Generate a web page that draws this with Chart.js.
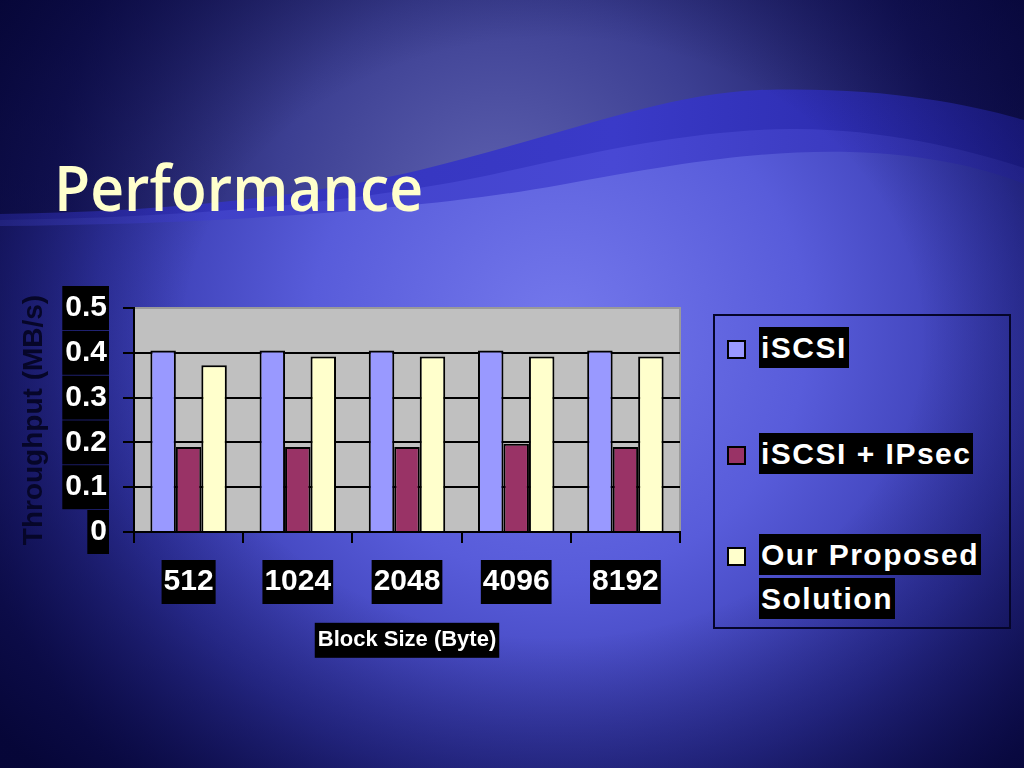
<!DOCTYPE html>
<html>
<head>
<meta charset="utf-8">
<script src="https://cdn.jsdelivr.net/npm/chart.js@4"></script>
<style>
  html, body { margin:0; padding:0; }
  body {
    width:1024px; height:768px; overflow:hidden; position:relative;
    background:#12125a;
    font-family: "Liberation Sans", Arial, sans-serif;
  }
  #bg { position:absolute; left:0; top:0; }
  #vignette {
    position:absolute; left:0; top:0; width:1024px; height:768px;
    background: radial-gradient(ellipse 72% 78% at 54% 44%, rgba(8,8,60,0) 50%, rgba(6,6,55,0.55) 80%, rgba(4,4,50,0.9) 100%);
  }
  #title {
    position:absolute; left:54px; top:155px; margin:0;
    font-family:"Open Sans", sans-serif; font-weight:600; font-size:64px; line-height:1;
    color:#ffffcc; transform:scaleX(0.92); transform-origin:left top;
  }
  #chartBox { position:absolute; left:0; top:270px; }
  #legend {
    position:absolute; left:713px; top:314px; width:294px; height:311px;
    border:2px solid #05052a; padding:0; box-sizing:content-box;
  }
  .item { position:absolute; left:12px; }
  .sw { position:absolute; left:0; width:15px; height:15px; border:2px solid #000; }
  .lbl {
    position:absolute; left:32px; width:240px;
    font-weight:bold; font-size:30px; line-height:44px; color:#fff; letter-spacing:1.5px;
  }
  .lbl span { background:#000; padding:4px 2px; -webkit-box-decoration-break:clone; box-decoration-break:clone; }
</style>
</head>
<body>
<svg id="bg" width="1024" height="768">
  <defs>
    <radialGradient id="upper" gradientUnits="userSpaceOnUse" cx="500" cy="210" r="640">
      <stop offset="0" stop-color="#5e61b0"/>
      <stop offset="0.35" stop-color="#3c3f92"/>
      <stop offset="0.7" stop-color="#16165c"/>
      <stop offset="1" stop-color="#08083e"/>
    </radialGradient>
    <radialGradient id="lower" gradientUnits="userSpaceOnUse" cx="560" cy="330" r="620">
      <stop offset="0" stop-color="#7478ec"/>
      <stop offset="0.4" stop-color="#585cda"/>
      <stop offset="0.75" stop-color="#3437aa"/>
      <stop offset="1" stop-color="#1a1a70"/>
    </radialGradient>
    <linearGradient id="band1" x1="0" y1="0" x2="1" y2="0">
      <stop offset="0" stop-color="#3030b4"/>
      <stop offset="0.6" stop-color="#3a3ac8"/>
      <stop offset="1" stop-color="#2424a0"/>
    </linearGradient>
    <linearGradient id="band2" x1="0" y1="0" x2="1" y2="0">
      <stop offset="0" stop-color="#3c3ec2"/>
      <stop offset="0.6" stop-color="#4848d4"/>
      <stop offset="1" stop-color="#3030b0"/>
    </linearGradient>
  </defs>
  <rect x="0" y="0" width="1024" height="768" fill="url(#upper)"/>
  <path d="M0,214 C160,212 300,198 420,170 C560,136 660,94 760,90 C880,86 970,104 1024,120 L1024,768 L0,768 Z" fill="url(#band1)"/>
  <path d="M0,220 C200,218 370,200 490,175 C610,148 700,130 790,129 C880,128 970,150 1024,168 L1024,768 L0,768 Z" fill="url(#band2)"/>
  <path d="M0,226 C220,224 420,210 560,185 C680,163 760,150 850,152 C930,154 990,170 1024,184 L1024,768 L0,768 Z" fill="url(#lower)"/>
</svg>
<div id="vignette"></div>
<h1 id="title">Performance</h1>
<div id="chartBox"><canvas id="perfChart" width="700" height="400"></canvas></div>
<div id="legend"></div>
<script>
const blockSizes = ['512', '1024', '2048', '4096', '8192'];
const iscsi = [0.405, 0.405, 0.405, 0.405, 0.405];
const iscsiIpsec = [0.19, 0.19, 0.19, 0.197, 0.19];
const proposed = [0.372, 0.392, 0.392, 0.392, 0.392];
const yTicks = [0, 0.1, 0.2, 0.3, 0.4, 0.5];

const seriesNames = ['iSCSI', 'iSCSI + IPsec', 'Our Proposed Solution'];
const seriesColors = ['#9999ff', '#993366', '#ffffcc'];

const tickFont = { family: '"Liberation Sans", Arial, sans-serif', size: 30, weight: 'bold' };

// gray plot area + black box behind the x title
const plotBg = {
  id: 'plotBg',
  beforeDraw(chart) {
    const { ctx, chartArea: a } = chart;
    ctx.save();
    ctx.fillStyle = '#c0c0c0';
    ctx.fillRect(a.left, a.top, a.right - a.left, a.bottom - a.top);
    ctx.strokeStyle = '#9a9a9a';
    ctx.lineWidth = 2;
    ctx.strokeRect(a.left, a.top, a.right - a.left, a.bottom - a.top);

    const s = chart.scales.x;
    const t = s.options.title;
    ctx.font = 'bold ' + t.font.size + 'px "Liberation Sans", Arial, sans-serif';
    const w = ctx.measureText(t.text).width;
    const cy = s.bottom - (t.font.size * 1.2 / 2 + t.padding.bottom);
    const cx = (s.left + s.right) / 2;
    ctx.fillStyle = '#000';
    ctx.fillRect(cx - w / 2 - 3, cy - 17, w + 6, 35);
    ctx.restore();
  }
};

const chart = new Chart(document.getElementById('perfChart'), {
  type: 'bar',
  data: {
    labels: blockSizes,
    datasets: [
      { label: seriesNames[0], data: iscsi, backgroundColor: seriesColors[0] },
      { label: seriesNames[1], data: iscsiIpsec, backgroundColor: seriesColors[1] },
      { label: seriesNames[2], data: proposed, backgroundColor: seriesColors[2] }
    ]
  },
  options: {
    responsive: false,
    animation: false,
    layout: { padding: { top: 38, right: 20, left: 0, bottom: 0 } },
    datasets: { bar: { borderColor: '#000', borderWidth: 2, categoryPercentage: 0.7, barPercentage: 1 } },
    plugins: { legend: { display: false }, tooltip: { enabled: false } },
    scales: {
      x: {
        afterFit(scale) { scale.height = 138; },
        border: { color: '#000', width: 2 },
        grid: { drawOnChartArea: false, tickColor: '#000', tickLength: 11, lineWidth: 2 },
        ticks: {
          color: '#fff', font: tickFont, padding: 21,
          showLabelBackdrop: true, backdropColor: '#000',
          backdropPadding: { top: 4, bottom: 4, left: 2, right: 2 }
        },
        title: {
          display: true, text: 'Block Size (Byte)', color: '#fff',
          font: { family: '"Liberation Sans", Arial, sans-serif', size: 22, weight: 'bold' },
          padding: { top: 0, bottom: 17 }
        }
      },
      y: {
        min: 0, max: 0.5,
        afterFit(scale) { scale.width = 134; },
        afterBuildTicks(scale) { scale.ticks = yTicks.map(v => ({ value: v })); },
        border: { color: '#000', width: 2 },
        grid: {
          color: ctx => (ctx.tick && ctx.tick.value === 0.5 ? 'rgba(0,0,0,0)' : '#000'),
          tickColor: '#000', tickLength: 11, lineWidth: 2
        },
        ticks: {
          color: '#fff', font: tickFont, padding: 16,
          callback: v => (v === 0 ? '0' : v.toFixed(1)),
          showLabelBackdrop: true, backdropColor: '#000',
          backdropPadding: { top: 4, bottom: 4, left: 3, right: 2 }
        },
        title: {
          display: true, text: 'Throughput (MB/s)', color: '#060628',
          font: { family: '"Liberation Sans", Arial, sans-serif', size: 28, weight: 'bold' },
          padding: { top: 17, bottom: 0 }
        }
      }
    }
  },
  plugins: [plotBg]
});

// html legend built from the chart datasets
const legendTops = [10, 116, 217];
const legendEl = document.getElementById('legend');
chart.data.datasets.forEach((ds, i) => {
  const item = document.createElement('div');
  item.className = 'item';
  item.style.top = legendTops[i] + 'px';
  item.innerHTML = '<div class="sw" style="top:14px;background:' + ds.backgroundColor + '"></div>' +
    '<div class="lbl"><span>' + ds.label + '</span></div>';
  legendEl.appendChild(item);
});
</script>
</body>
</html>
